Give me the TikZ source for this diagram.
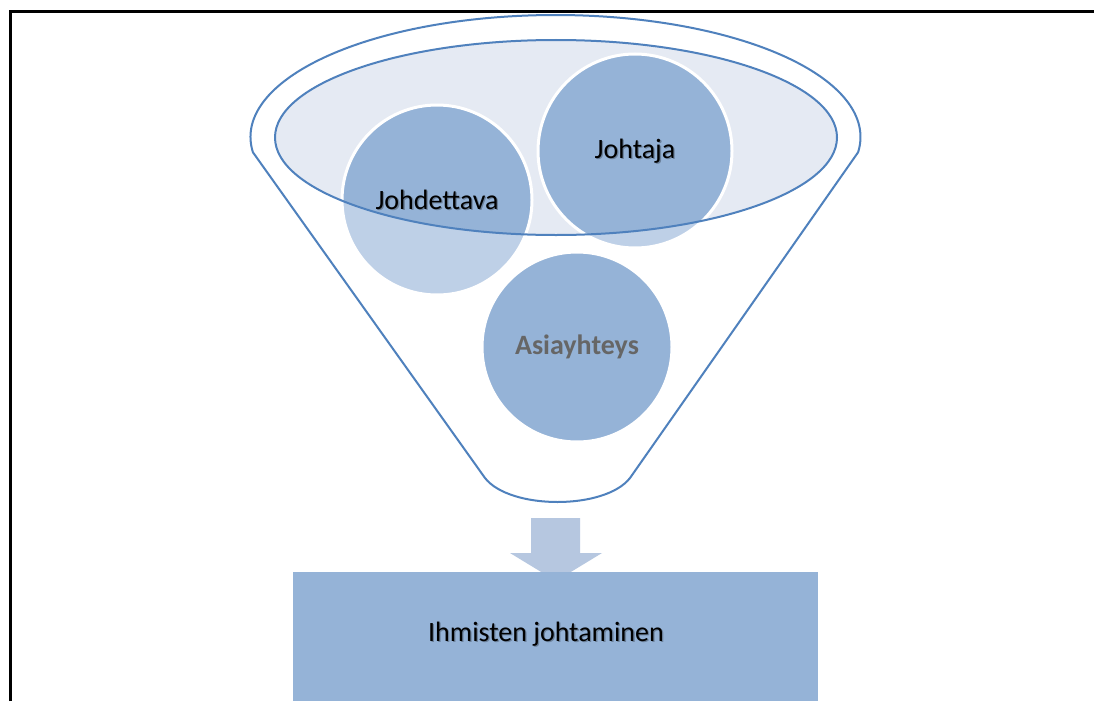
\documentclass[tikz,border=0pt]{standalone}
\usepackage{fontspec}
\setmainfont{Carlito}
\usetikzlibrary{calc}
\begin{document}
\begin{tikzpicture}[x=1pt,y=-1pt,
  every node/.style={inner sep=0pt, outer sep=0pt},
  outline/.style={draw=funnelblue, line width=2pt},
  ball/.style={circle, fill=ballblue, draw=white, line width=3pt},
  paleball/.style={circle, fill=paleblue, draw=white, line width=3pt},
  lbl/.style={font=\fontsize{28}{32}\selectfont, text=black},
  lblshade/.style={font=\fontsize{28}{32}\selectfont, text=black, opacity=0.28},
  boldlbl/.style={font=\fontsize{28}{32}\selectfont\bfseries, text=graytext}]
\definecolor{funnelblue}{HTML}{4F81BD}
\definecolor{ballblue}{HTML}{95B3D7}
\definecolor{paleblue}{HTML}{BED0E7}
\definecolor{rimfill}{HTML}{E5EAF3}
\definecolor{arrowblue}{HTML}{B6C7E0}
\definecolor{graytext}{HTML}{666666}

\useasboundingbox (0,0) rectangle (1094,701);
\fill[white] (0,0) rectangle (1094,701);

% page frame (left and top edges)
\draw[line width=3pt, black] (10,701) -- (10,11.3) -- (1094,11.3);

% key points
\coordinate (rimc) at (555.5,137);
\coordinate (lip) at (556,137.5);
\coordinate (c1) at (437,200);
\coordinate (c2) at (635,151);
\coordinate (c3) at (577,347);

% funnel body
\draw[outline, fill=white, line join=round]
  ($(rimc)+(172.8:305 and 122)$)
  arc[start angle=172.8, end angle=367.2, x radius=305, y radius=122]
  -- (630,478) .. controls (605,510) and (510,510) .. (485,478) -- cycle;

% funnel mouth
\fill[rimfill] (lip) ellipse [x radius=281, y radius=97.5];

% circles sitting in the mouth
\node[ball, minimum size=190pt] (b1) at (c1) {};
\node[ball, minimum size=194pt] (b2) at (c2) {};

% parts of the circles below the mouth look paler
\begin{scope}[even odd rule]
  \clip (0,0) rectangle (1094,701)
    (lip) ellipse [x radius=281, y radius=97.5];
  \node[paleball, minimum size=190pt] at (c1) {};
  \node[paleball, minimum size=194pt] at (c2) {};
\end{scope}

% rim of the mouth
\draw[outline] (lip) ellipse [x radius=281, y radius=97.5];

% third circle inside the funnel
\node[ball, minimum size=190pt] (b3) at (c3) {};

% labels
\node[lblshade] at ([shift={(1.3,1.3)}]c1) {Johdettava};
\node[lbl] (t1) at (c1) {Johdettava};
\node[lblshade] at ([shift={(1.3,1.3)}]c2) {Johtaja};
\node[lbl] (t2) at (c2) {Johtaja};
\node[boldlbl] (t3) at (c3) {Asiayhteys};

% block arrow down to the result
\coordinate (ar) at (556,518);
\fill[arrowblue] (531,518) -- (580,518) -- (580,553) -- (602,553)
  -- (556,581) -- (510,553) -- (531,553) -- cycle;

% result box
\node[fill=ballblue, minimum width=525pt, minimum height=129pt, anchor=north west]
  (res) at (293,572) {};
\node[lblshade] at (547.3,635.3) {Ihmisten johtaminen};
\node[lbl] (t4) at (546,634) {Ihmisten johtaminen};
\end{tikzpicture}
\end{document}
